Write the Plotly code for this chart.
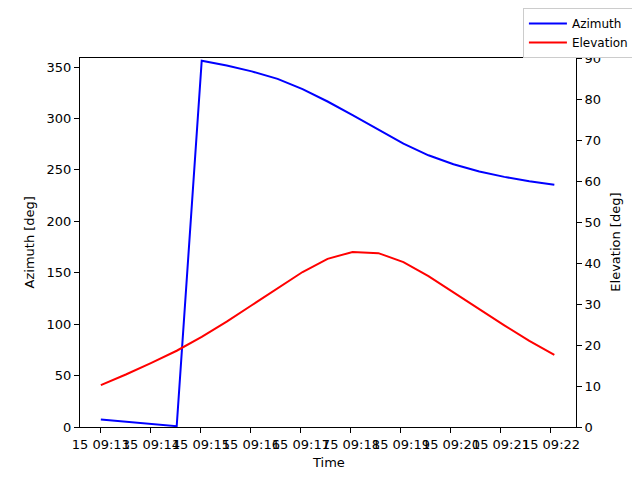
"""Azimuth / elevation of a pass over time, on twin y axes."""

import plotly.graph_objects as go

TIMES = [
    "2023-03-15 09:13:00", "2023-03-15 09:13:30", "2023-03-15 09:14:00",
    "2023-03-15 09:14:31", "2023-03-15 09:15:01", "2023-03-15 09:15:31",
    "2023-03-15 09:16:01", "2023-03-15 09:16:32", "2023-03-15 09:17:02",
    "2023-03-15 09:17:32", "2023-03-15 09:18:02", "2023-03-15 09:18:33",
    "2023-03-15 09:19:03", "2023-03-15 09:19:33", "2023-03-15 09:20:03",
    "2023-03-15 09:20:34", "2023-03-15 09:21:04", "2023-03-15 09:21:34",
    "2023-03-15 09:22:04",
]
AZIMUTH = [7.3, 5.3, 3.3, 0.8, 356.1, 351.5, 345.8, 338.5, 328.5, 316.5,
           303.3, 288.9, 275.5, 264.2, 255.5, 248.4, 243.2, 239.0, 235.5]
ELEVATION = [10.2, 12.8, 15.6, 18.6, 22.0, 25.7, 29.7, 33.8, 37.8, 41.0,
             42.7, 42.4, 40.2, 36.8, 32.8, 28.7, 24.8, 21.0, 17.6]

FONT = "DejaVu Sans"
TXT = dict(family=FONT, size=13, color="black")

fig = go.Figure()
fig.add_trace(go.Scatter(x=TIMES, y=AZIMUTH, mode="lines", name="Azimuth",
                         line=dict(color="blue", width=2)))
fig.add_trace(go.Scatter(x=TIMES, y=ELEVATION, mode="lines", name="Elevation",
                         line=dict(color="red", width=2), yaxis="y2"))

axis_style = dict(showgrid=False, zeroline=False, showline=True, linecolor="black",
                  linewidth=1, ticks="outside", ticklen=5, tickcolor="black",
                  tickfont=TXT, automargin=False)

# page body adds an 8px offset, so margins are shifted to keep the plot box in place
fig.update_layout(
    width=640, height=480,
    margin=dict(l=72, r=72, t=50, b=61, autoexpand=False),
    plot_bgcolor="white", paper_bgcolor="white",
    font=TXT,
    showlegend=True,
    legend=dict(x=0.978, y=1.0, xref="container", yref="container",
                xanchor="right", yanchor="top", itemwidth=38,
                bordercolor="#cccccc", borderwidth=1, bgcolor="white",
                font=dict(family=FONT, size=12, color="black")),
    xaxis=dict(axis_style, mirror=True, type="date", tickangle=0,
               range=["2023-03-15 09:12:35", "2023-03-15 09:22:30"],
               dtick=60000, tick0="2023-03-15 09:13:00", tickformat="%d %H:%M"),
    yaxis=dict(axis_style, mirror=True, range=[0, 358.8], dtick=50),
    yaxis2=dict(axis_style, overlaying="y", side="right", range=[0, 90], dtick=10),
)

# axis titles as annotations (placement of the overlaying axis title is unreliable)
fig.add_annotation(text="Time", xref="paper", yref="paper", x=0.5, y=-0.095,
                   showarrow=False, font=TXT, yanchor="middle")
fig.add_annotation(text="Azimuth [deg]", xref="paper", yref="paper", x=-0.101, y=0.5,
                   showarrow=False, font=TXT, textangle=-90, xanchor="center")
fig.add_annotation(text="Elevation [deg]", xref="paper", yref="paper", x=1.079, y=0.5,
                   showarrow=False, font=TXT, textangle=-90, xanchor="center")

fig.write_html("out.html")
